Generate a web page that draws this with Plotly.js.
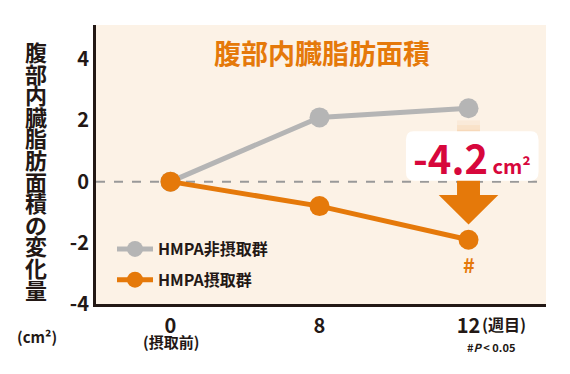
<!DOCTYPE html>
<html><head><meta charset="utf-8">
<script src="https://cdn.plot.ly/plotly-3.0.1.min.js"></script>
<style>body{margin:0;background:#fff}#c{width:570px;height:374px}</style></head>
<body><div id="c"></div>
<script>
// ---- data ----
const weekLabels = ['0', '8', '12'];
const weekIndex = [0, 1, 2];
const nonIntake = [0, 2.1, 2.4];     // HMPA非摂取群
const intake = [0, -0.8, -1.9];      // HMPA摂取群
const seriesNames = ['HMPA非摂取群', 'HMPA摂取群'];
const yTickVals = [-4, -2, 0, 2, 4];
const yTickText = ['-4', '-2', '0', '2', '4'];
const diffText = '-4.2';
const chartTitle = '腹部内臓脂肪面積';
const yTitleChars = '腹部内臓脂肪面積の変化量';

// ---- styles ----
const FONT = '"Noto Sans CJK JP", "Noto Sans", sans-serif';
const DARK = '#231815';
const ORANGE = '#E5790A';
const GREY = '#B5B5B5';
const RED = '#D7073C';
const W = 570, H = 374, ML = 96, MR = 24, MT = 25, MB = 70;
const PW = W - ML - MR, PH = H - MT - MB;
const px2x = p => (p - ML) / PW;
const py2y = p => (H - MB - p) / PH;

const traces = [
  {x: weekIndex, y: nonIntake, name: seriesNames[0], type: 'scatter', mode: 'lines+markers',
   line: {color: GREY, width: 5}, marker: {color: GREY, size: 20}, legendgroup: 'a'},
  {x: weekIndex, y: intake, name: seriesNames[1], type: 'scatter', mode: 'lines+markers',
   line: {color: ORANGE, width: 5}, marker: {color: ORANGE, size: 20}, legendgroup: 'b'}
];

const last = weekIndex.length - 1;
const ax = weekIndex[last];
const sw = 0.077, hw = 0.2;
const headTop = -0.44, tip = intake[last] + 0.5;
const shapes = [
  {type: 'line', xref: 'paper', x0: 0, x1: 1, y0: 0, y1: 0, line: {color: '#999999', width: 2, dash: 'dash'}, layer: 'below'}
];
// faded column under grey point
const fadeTop = 2.0, fadeBot = 1.1, nf = 6;
for (let i = 0; i < nf; i++) {
  const a = fadeTop - (fadeTop - fadeBot) * i / nf, b = fadeTop - (fadeTop - fadeBot) * (i + 1) / nf;
  shapes.push({type: 'rect', x0: ax - sw, x1: ax + sw, y0: b, y1: a, line: {width: 0},
    fillcolor: ORANGE, opacity: 0.06 + 0.07 * i});
}
shapes.push({type: 'path', line: {width: 0}, fillcolor: ORANGE,
  path: `M ${ax - sw} 0.3 L ${ax + sw} 0.3 L ${ax + sw} ${headTop} L ${ax + hw} ${headTop} L ${ax} ${tip} L ${ax - hw} ${headTop} L ${ax - sw} ${headTop} Z`});
// white label box (rounded)
const bx0 = ax - 0.42, bx1 = ax + 0.47, by0 = 0.03, by1 = 1.65, r = 0.05, ry = 0.3;
shapes.push({type: 'path', line: {width: 0}, fillcolor: '#ffffff',
  path: `M ${bx0 + r} ${by0} L ${bx1 - r} ${by0} Q ${bx1} ${by0} ${bx1} ${by0 + ry} L ${bx1} ${by1 - ry} Q ${bx1} ${by1} ${bx1 - r} ${by1} L ${bx0 + r} ${by1} Q ${bx0} ${by1} ${bx0} ${by1 - ry} L ${bx0} ${by0 + ry} Q ${bx0} ${by0} ${bx0 + r} ${by0} Z`});

const A = {showarrow: false, xanchor: 'center', yanchor: 'middle'};
const annotations = [
  {...A, text: chartTitle, xref: 'paper', yref: 'paper', x: px2x(322), y: py2y(52),
   font: {family: FONT, size: 27, color: ORANGE, weight: 'bold'}},
  {...A, text: diffText + '<span style="font-size:20px"> cm²</span>', x: ax, y: 0.8, xshift: 3,
   font: {family: FONT, size: 40, color: RED, weight: 'bold'}},
  {...A, text: '#', x: ax, y: intake[last], yshift: -25,
   font: {family: FONT, size: 20, color: ORANGE, weight: 'bold'}},
  {...A, text: '(摂取前)', x: weekIndex[0], xref: 'x', yref: 'paper', y: py2y(341),
   font: {family: FONT, size: 15, color: DARK, weight: 'bold'}},
  {...A, text: '(週目)', x: ax, xshift: 35, xref: 'x', yref: 'paper', y: py2y(324),
   font: {family: FONT, size: 16, color: DARK, weight: 'bold'}},
  {...A, text: '#<i>P</i> < 0.05', x: ax, xshift: 22, xref: 'x', yref: 'paper', y: py2y(347),
   font: {family: FONT, size: 11, color: DARK, weight: 'bold'}},
  {...A, text: '(cm²)', xref: 'paper', yref: 'paper', x: px2x(37), y: py2y(337),
   font: {family: FONT, size: 15, color: DARK, weight: 'bold'}}
];
const chars = Array.from(yTitleChars);
chars.forEach((c, i) => {
  annotations.push({...A, text: c, xref: 'paper', yref: 'paper', x: px2x(36), y: py2y(51 + i * 21.6),
    font: {family: FONT, size: 22, color: DARK, weight: 'bold'}});
});

const layout = {
  width: W, height: H,
  margin: {l: ML, r: MR, t: MT, b: MB},
  paper_bgcolor: '#ffffff', plot_bgcolor: '#FCF2E6',
  font: {family: FONT, color: DARK},
  showlegend: true,
  legend: {x: px2x(112), y: py2y(232), xanchor: 'left', yanchor: 'top', bgcolor: 'rgba(0,0,0,0)',
    font: {family: FONT, size: 16, color: DARK, weight: 'bold'}, tracegroupgap: 7, itemwidth: 36},
  xaxis: {range: [-0.5, 2.52], tickvals: weekIndex, ticktext: weekLabels, showgrid: false, zeroline: false,
    showline: true, linewidth: 3, linecolor: DARK, ticks: '', ticklabelstandoff: 2,
    tickfont: {family: FONT, size: 20, color: DARK, weight: 'bold'}, fixedrange: true},
  yaxis: {range: [-4, 5.12], tickvals: yTickVals, ticktext: yTickText, showgrid: false, zeroline: false,
    showline: true, linewidth: 3, linecolor: DARK, ticks: '', ticklabelstandoff: 0,
    tickfont: {family: FONT, size: 20, color: DARK, weight: 'bold'}, fixedrange: true},
  shapes: shapes,
  annotations: annotations
};
Plotly.newPlot('c', traces, layout, {displayModeBar: false, staticPlot: true});
</script></body></html>
